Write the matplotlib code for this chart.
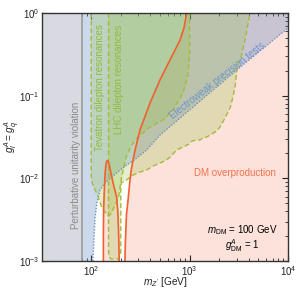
import numpy as np
import matplotlib
matplotlib.use("Agg")
import matplotlib.pyplot as plt

plt.rcParams['font.family'] = ['Liberation Sans', 'DejaVu Sans']
plt.rcParams['mathtext.fontset'] = 'custom'
plt.rcParams['mathtext.rm'] = 'Liberation Sans'
plt.rcParams['mathtext.it'] = 'Liberation Sans:italic'

# axis ranges
m_min, m_max = 10 ** 1.5, 1e4
g_min, g_max = 1e-3, 1.0

# perturbative unitarity limit on m_Z' [GeV]
m_unitarity = 79.8

# electroweak precision tests (excluded above the line)
ew_m = [104, 109, 114, 123, 138, 196, 290, 366, 500, 3010, 10000]
ew_g = [0.001, 0.0032, 0.005, 0.0072, 0.0088, 0.0126, 0.0176, 0.022, 0.0334, 0.204, 0.658]

# Tevatron dilepton resonances boundary
tev_m = [100, 100, 102, 108, 116, 128, 144, 150, 158, 168, 180, 189, 204, 226, 254,
         292, 396, 537, 678, 857, 963, 1000, 1000]
tev_g = [1.0, 0.011, 0.0088, 0.0075, 0.0063, 0.0045, 0.0036, 0.0035, 0.0037, 0.0043,
         0.0051, 0.0058, 0.0104, 0.018, 0.0246, 0.0308, 0.0418, 0.0508, 0.0671, 0.108,
         0.178, 0.31, 1.0]

# LHC dilepton resonances boundary
lhc_m = [150, 150, 152, 158, 175, 190, 197, 200, 200, 202, 230, 268, 313, 366, 425, 500,
         585, 632, 740, 818, 898, 986, 1058, 1181, 1276, 1368, 1492, 1612, 1886, 2037,
         2290, 2574, 2761, 2894, 3011, 3104, 3384, 3743, 4110]
lhc_g = [1.0, 0.0013, 0.00112, 0.00106, 0.00105, 0.00107, 0.00115, 0.0013, 0.0072, 0.0088,
         0.0096, 0.011, 0.0119, 0.0126, 0.0141, 0.0153, 0.0167, 0.0181, 0.022, 0.0233,
         0.0246, 0.026, 0.0283, 0.0291, 0.0291, 0.0308, 0.0316, 0.0334, 0.0374, 0.0418,
         0.0537, 0.071, 0.0964, 0.127, 0.193, 0.235, 0.31, 0.542, 1.0]

# relic density contours (DM overproduction inside / to the right)
relic_low_m = [133, 133, 133.7, 135.9, 138.8, 141.4, 144.7, 148.2, 153.5, 161.6, 171,
               181.6, 187.3, 190.8, 192.6]
relic_low_g = [0.001, 0.0021, 0.0041, 0.0072, 0.0119, 0.0149, 0.0164, 0.0162, 0.0141,
               0.0104, 0.0078, 0.0059, 0.0036, 0.0018, 0.001]
relic_high_m = [220, 223, 228, 237, 248, 257, 279, 313, 396, 500, 632, 799, 877, 934]
relic_high_g = [0.001, 0.0018, 0.0036, 0.0055, 0.0096, 0.0133, 0.022, 0.0384, 0.0815,
                0.155, 0.27, 0.47, 0.66, 1.0]

pink = '#fce2da'
blue = '#567fbd'
green = '#98c24a'
dash_col = '#a6ba3a'
red = '#f1602e'
fs = 7

fig = plt.figure(figsize=(2.97, 2.91), dpi=100)
ax = fig.add_axes([42 / 297, 1 - 261 / 291, 246 / 297, 248 / 291])
ax.set_xscale('log')
ax.set_yscale('log')

# DM overproduction
ax.fill(relic_high_m + [m_max, m_max], relic_high_g + [g_max, g_min],
        color=pink, lw=0, zorder=1)
ax.fill(relic_low_m, relic_low_g, color=pink, lw=0, zorder=1)

# electroweak precision
ax.fill([m_min] + ew_m + [m_max, m_min], [g_min] + ew_g + [g_max, g_max],
        color=blue, alpha=0.3, lw=0, zorder=2)

# dilepton resonances
ax.fill(tev_m, tev_g, color=green, alpha=0.27, lw=0, zorder=3)
ax.fill(lhc_m, lhc_g, color=green, alpha=0.27, lw=0, zorder=3)

# unitarity
ax.fill([m_min, m_unitarity, m_unitarity, m_min], [g_min, g_min, g_max, g_max],
        color='#d9dae1', lw=0, zorder=4)
ax.plot([m_unitarity, m_unitarity], [g_min, g_max], color='#9a9a9a', lw=1.2, zorder=5)

ax.plot(ew_m, ew_g, color='#6f8fc2', lw=1.0, ls=(0, (1, 1.2)), zorder=6)
ax.plot(tev_m, tev_g, color=dash_col, lw=1.0, ls=(0, (3.5, 2)), zorder=6)
ax.plot(lhc_m, lhc_g, color=dash_col, lw=1.0, ls=(0, (3.5, 2)), zorder=6)
ax.plot(relic_low_m, relic_low_g, color=red, lw=1.2, zorder=7)
ax.plot(relic_high_m, relic_high_g, color=red, lw=1.2, zorder=7)

# labels
ax.text(70, 0.0145, 'Perturbative unitarity violation', rotation=90, color='#8a8a8a',
        fontsize=fs, ha='center', va='center', zorder=8)
ax.text(123, 0.1256, 'Tevatron dilepton resonances', rotation=90, color='#8fbc3c',
        fontsize=fs, ha='center', va='center', zorder=8)
ax.text(191, 0.159, 'LHC dilepton resonances', rotation=90, color='#8fbc3c',
        fontsize=fs, ha='center', va='center', zorder=8)
ax.text(1899, 0.15, 'Electroweak precision tests', rotation=38, color='#6f94cc',
        fontsize=fs, ha='center', va='center', zorder=8)
ax.text(2894, 0.0116, 'DM overproduction', color='#f2714c',
        fontsize=fs, ha='center', va='center', zorder=8)
ax.text(3408, 0.00237, r'$m_{\rm DM}$ = 100 GeV', color='black',
        fontsize=fs, ha='center', va='center', zorder=8)
ax.text(3408, 0.00152, r'$g^A_{\rm DM}$ = 1', color='black',
        fontsize=fs, ha='center', va='center', zorder=8)

ax.set_xlim(m_min, m_max)
ax.set_ylim(g_min, g_max)
ax.set_xlabel(r"$m_{Z'}$ [GeV]", fontsize=7.3, color='#222222')
ax.set_ylabel(r'$g_l^A = g_q^A$', fontsize=7.3, color='#222222')
ax.xaxis.set_label_coords(0.5, -0.055)
ax.yaxis.set_label_coords(-0.08, 0.5)
ax.set_xticks([1e2, 1e3, 1e4])
ax.set_yticks([1e-3, 1e-2, 1e-1, 1])
ax.tick_params(which='both', direction='in', top=True, right=True, labelsize=7,
               colors='#222222', pad=2)
ax.tick_params(which='major', length=4, width=0.8)
ax.tick_params(which='minor', length=2.2, width=0.6)
for s in ax.spines.values():
    s.set_linewidth(1.0)
    s.set_color('#333333')
    s.set_zorder(10)

fig.savefig('out.png', dpi=100)
